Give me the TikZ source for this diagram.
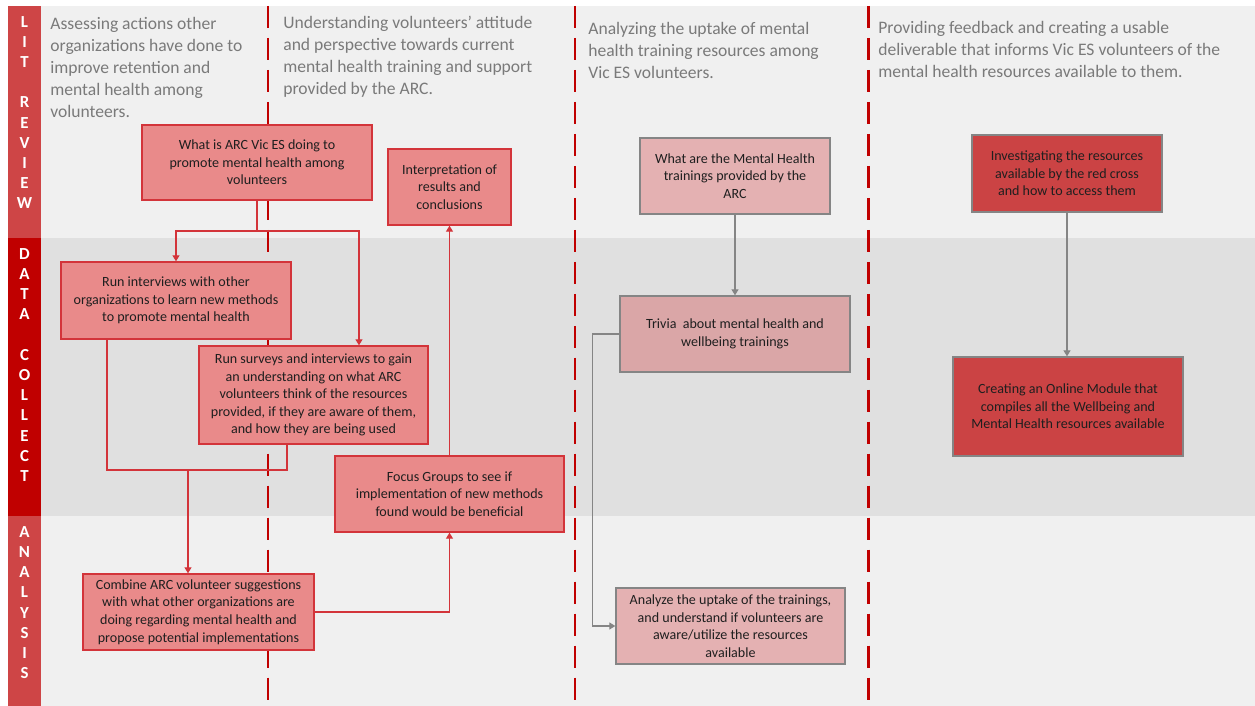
\documentclass[tikz,border=0pt]{standalone}
\usepackage{fontspec}
\setmainfont{Carlito}
\usetikzlibrary{arrows.meta}
\definecolor{bandlight}{HTML}{F0F0F0}
\definecolor{banddark}{HTML}{E0E0E0}
\definecolor{sidelight}{HTML}{CE4546}
\definecolor{sidedark}{HTML}{C00000}
\definecolor{boxfill}{HTML}{E98A8A}
\definecolor{boxline}{HTML}{D3343A}
\definecolor{pinkfill}{HTML}{E4B1B2}
\definecolor{trivfill}{HTML}{DAA6A7}
\definecolor{redfill}{HTML}{CB4344}
\definecolor{greyline}{HTML}{858585}
\definecolor{headgray}{HTML}{7A7A7A}
\definecolor{boxtext}{HTML}{1F1F1F}

\begin{document}
\begin{tikzpicture}[x=0.02cm, y=-0.02cm,
  box/.style={draw=boxline, fill=boxfill, line width=0.8pt, align=center,
    text=boxtext, inner sep=2pt, font=\fontsize{8}{10}\selectfont},
  pinkbox/.style={box, draw=greyline, fill=pinkfill},
  darkbox/.style={box, draw=greyline, fill=redfill},
  head/.style={anchor=north west, align=left, inner sep=0pt, text=headgray,
    font=\fontsize{10}{12.5}\selectfont},
  sidelbl/.style={align=center, inner sep=0pt, text=white,
    font=\bfseries\fontsize{9.6}{11.5}\selectfont},
  divider/.style={draw=sidedark, line width=1.7pt, dash pattern=on 12.8pt off 5.4pt},
  redline/.style={draw=boxline, line width=0.6pt},
  redarrow/.style={redline, -{Triangle[length=3.4pt,width=4pt]}},
  greyarrow/.style={draw=greyline, line width=0.6pt, -{Triangle[length=3.4pt,width=4pt]}}
]
\useasboundingbox (0,0) rectangle (1255,706);

% bands and side bar
\fill[bandlight] (41,6) rectangle (1255,238);
\fill[banddark] (41,238) rectangle (1255,516);
\fill[bandlight] (41,516) rectangle (1255,706);
\fill[sidelight] (8,6) rectangle (41,238);
\fill[sidedark] (8,238) rectangle (41,516);
\fill[sidelight] (8,516) rectangle (41,706);

\node[sidelbl] (lit) at (24.5,112.5) {L\\I\\T\\[11.5pt]R\\E\\V\\I\\E\\W};
\node[sidelbl] (data) at (24.5,365) {D\\A\\T\\A\\[11.5pt]C\\O\\L\\L\\E\\C\\T};
\node[sidelbl] (ana) at (24.5,602.5) {A\\N\\A\\L\\Y\\S\\I\\S};

\foreach \x in {268,575,868}
  \draw[divider] (\x,6) -- (\x,706);

% column headings
\node[head] (h1) at (50,17) {Assessing actions other\\organizations have done to\\improve retention and\\mental health among\\volunteers.};
\node[head] (h2) at (283,16) {Understanding volunteers’ attitude\\and perspective towards current\\mental health training and support\\provided by the ARC.};
\node[head] (h3) at (588,22) {Analyzing the uptake of mental\\health training resources among\\Vic ES volunteers.};
\node[head] (h4) at (878,21) {Providing feedback and creating a usable\\deliverable that informs Vic ES volunteers of the\\mental health resources available to them.};

% first two columns
\node[box, minimum width=4.6cm, minimum height=1.5cm] (what) at (257,162.5) {What is ARC Vic ES doing to\\promote mental health among\\volunteers};
\node[box, minimum width=2.46cm, minimum height=1.52cm] (interp) at (449.5,187) {Interpretation of\\results and\\conclusions};
\node[box, minimum width=4.6cm, minimum height=1.54cm] (interviews) at (176,300.5) {Run interviews with other\\organizations to learn new methods\\to promote mental health};
\node[box, minimum width=4.58cm, minimum height=1.96cm] (surveys) at (313.5,395) {Run surveys and interviews to gain\\an understanding on what ARC\\volunteers think of the resources\\provided, if they are aware of them,\\and how they are being used};
\node[box, minimum width=4.58cm, minimum height=1.52cm] (focus) at (449.5,494) {Focus Groups to see if\\implementation of new methods\\found would be beneficial};
\node[box, minimum width=4.62cm, minimum height=1.52cm] (combine) at (198.5,612) {Combine ARC volunteer suggestions\\with what other organizations are\\doing regarding mental health and\\propose potential implementations};

\coordinate (fork) at (257,231);
\coordinate (join) at (188,470);
\draw[redline] (what.south) -- (fork);
\draw[redarrow] (fork) -| (interviews.north);
\draw[redarrow] (fork) -| ([xshift=0.91cm]surveys.north);
\draw[redline] ([xshift=-1.38cm]interviews.south) |- (join) -| ([xshift=-0.53cm]surveys.south);
\draw[redarrow] (join) -- (join |- combine.north);
\draw[redarrow] (combine.east) -| (focus.south);
\draw[redarrow] (focus.north) -- (interp.south);

% third column
\node[pinkbox, minimum width=3.8cm, minimum height=1.52cm] (trainings) at (735,176) {What are the Mental Health\\trainings provided by the\\ARC};
\node[pinkbox, fill=trivfill, minimum width=4.6cm, minimum height=1.52cm] (trivia) at (735,334) {Trivia~ about mental health and\\wellbeing trainings};
\node[pinkbox, minimum width=4.58cm, minimum height=1.52cm] (uptake) at (730.5,626) {Analyze the uptake of the trainings,\\and understand if volunteers are\\aware/utilize the resources\\available};
\draw[greyarrow] (trainings.south) -- (trivia.north);
\draw[greyarrow] (trivia.west) -- ++(-27,0) |- (uptake.west);

% fourth column
\node[darkbox, minimum width=3.8cm, minimum height=1.54cm] (investigate) at (1067,173.5) {Investigating the resources\\available by the red cross\\and how to access them};
\node[darkbox, minimum width=4.6cm, minimum height=1.98cm] (module) at (1068,406.5) {Creating an Online Module that\\compiles all the Wellbeing and\\Mental Health resources available};
\draw[greyarrow] (investigate.south) -- (module.north -| investigate.south);
\end{tikzpicture}
\end{document}
